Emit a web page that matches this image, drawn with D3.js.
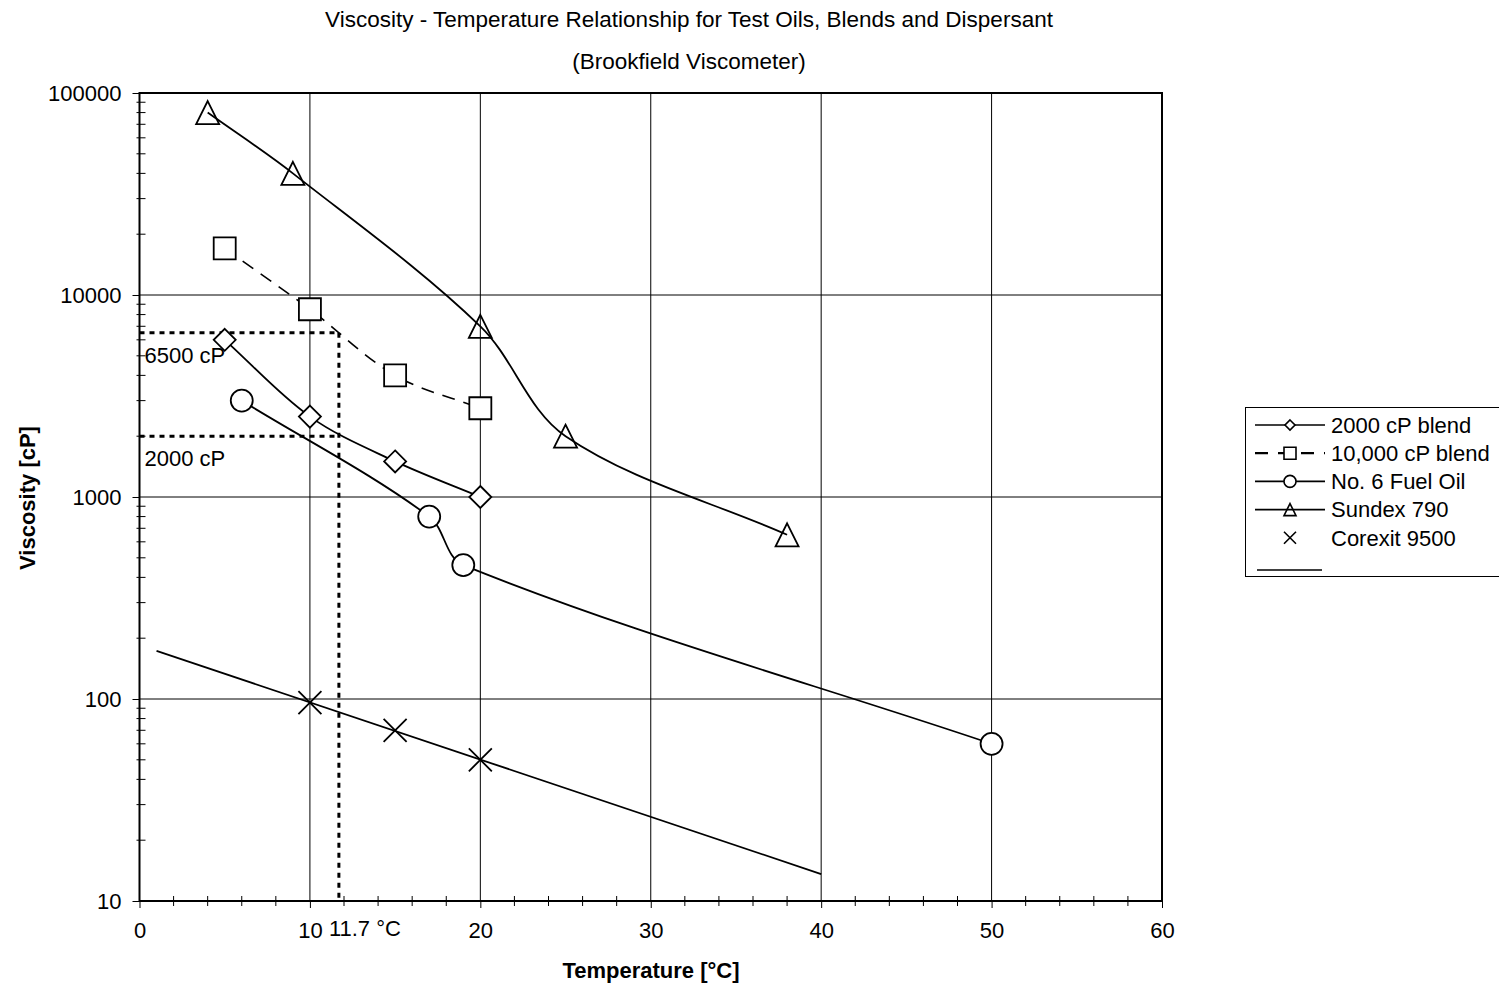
<!DOCTYPE html>
<html><head><meta charset="utf-8">
<script src="https://cdn.jsdelivr.net/npm/d3@7"></script>
<style>body{margin:0;background:#fff;} svg{display:block;font-family:"Liberation Sans",Arial,sans-serif;}</style>
</head><body><svg id="chart" width="1499" height="990"></svg>
<script>
// ---- data ----
const titleLines = ["Viscosity - Temperature Relationship for Test Oils, Blends and Dispersant", "(Brookfield Viscometer)"];
const xTicks = [0, 10, 20, 30, 40, 50, 60];
const xMinorTicks = [2,4,6,8,12,14,16,18,22,24,26,28,32,34,36,38,42,44,46,48,52,54,56,58];
const yTicks = [10, 100, 1000, 10000, 100000];
const yMinorMult = [2,3,4,5,6,7,8,9];
const gridX = [10, 20, 30, 40, 50];
const gridY = [100, 1000, 10000];

const blend2000T = [5, 10, 15, 20];
const blend2000V = [6000, 2500, 1500, 1000];
const blend10000T = [5, 10, 15, 20];
const blend10000V = [17000, 8500, 4000, 2750];
const fuelOilT = [6, 17, 19, 50];
const fuelOilV = [3000, 800, 460, 60];
const sundexT = [4, 9, 20, 25, 38];
const sundexV = [80000, 40000, 7000, 2000, 650];
const corexitT = [10, 15, 20];
const corexitV = [96, 70, 50];
const corexitTrendT = [1, 40];
const corexitTrendV = [173, 13.6];
const refViscosities = [6500, 2000];
const refLabels = ["6500 cP", "2000 cP"];
const refTemp = 11.7;
const refTempLabel = "11.7 °C";
const legendNames = ["2000 cP blend", "10,000 cP blend", "No. 6 Fuel Oil", "Sundex 790", "Corexit 9500"];

// ---- setup ----
const FS = 22;
const svg = d3.select("#chart");
const x = d3.scaleLinear().domain([0, 60]).range([139.5, 1162]);
const y = d3.scaleLog().domain([10, 100000]).range([901, 93]);
const zip = (a, b) => a.map((d, i) => [d, b[i]]);

// title
svg.selectAll("text.title").data(titleLines).join("text")
  .attr("x", 689).attr("y", (d, i) => 27 + i * 42)
  .attr("text-anchor", "middle").attr("font-size", 22.5).text(d => d);

// grid
const g = svg.append("g");
g.selectAll("line.gx").data(gridX).join("line")
  .attr("x1", d => x(d)).attr("x2", d => x(d)).attr("y1", y(100000)).attr("y2", y(10))
  .attr("stroke", "#000").attr("stroke-width", 1);
g.selectAll("line.gy").data(gridY).join("line")
  .attr("x1", x(0)).attr("x2", x(60)).attr("y1", d => y(d)).attr("y2", d => y(d))
  .attr("stroke", "#000").attr("stroke-width", 1);

// reference dotted lines
refViscosities.forEach((v, i) => {
  g.append("line").attr("x1", x(0)).attr("x2", x(refTemp)).attr("y1", y(v)).attr("y2", y(v))
    .attr("stroke", "#000").attr("stroke-width", 3).attr("stroke-dasharray", "5,5");
  g.append("text").attr("x", x(0) + 5).attr("y", y(v) + 30).attr("font-size", FS).text(refLabels[i]);
});
g.append("line").attr("x1", x(refTemp)).attr("x2", x(refTemp)).attr("y1", y(refViscosities[0])).attr("y2", y(10))
  .attr("stroke", "#000").attr("stroke-width", 3).attr("stroke-dasharray", "5,5");

// minor ticks
const yMinor = [];
[10, 100, 1000, 10000].forEach(b => yMinorMult.forEach(m => yMinor.push(b * m)));
g.selectAll("line.ym").data(yMinor).join("line")
  .attr("x1", x(0) - 3).attr("x2", x(0) + 6).attr("y1", d => y(d)).attr("y2", d => y(d))
  .attr("stroke", "#000").attr("stroke-width", 1);
g.selectAll("line.xm").data(xMinorTicks).join("line")
  .attr("x1", d => x(d)).attr("x2", d => x(d)).attr("y1", y(10) - 5).attr("y2", y(10) + 5)
  .attr("stroke", "#000").attr("stroke-width", 1);

// axes
const xAxis = svg.append("g").attr("transform", `translate(0,${y(10)})`)
  .call(d3.axisBottom(x).tickValues(xTicks).tickSize(7).tickPadding(14).tickFormat(d3.format("d")));
const yAxis = svg.append("g").attr("transform", `translate(${x(0)},0)`)
  .call(d3.axisLeft(y).tickValues(yTicks).tickSize(7).tickPadding(11).tickFormat(d3.format("d")));
[xAxis, yAxis].forEach(a => {
  a.select(".domain").remove();
  a.selectAll("text").attr("font-size", FS).attr("fill", "#000").attr("font-family", "Liberation Sans, Arial, sans-serif");
  a.selectAll("line").attr("stroke", "#000");
});

// plot border
svg.append("rect").attr("x", x(0)).attr("y", y(100000)).attr("width", x(60) - x(0)).attr("height", y(10) - y(100000))
  .attr("fill", "none").attr("stroke", "#000").attr("stroke-width", 2);

// ref temp label
svg.append("text").attr("x", x(refTemp) - 10).attr("y", 936).attr("font-size", FS).text(refTempLabel);

// axis titles
svg.append("text").attr("x", 651).attr("y", 978).attr("text-anchor", "middle")
  .attr("font-size", FS).attr("font-weight", "bold").text("Temperature [°C]");
svg.append("text").attr("transform", "translate(35,498) rotate(-90)").attr("text-anchor", "middle")
  .attr("font-size", FS).attr("font-weight", "bold").text("Viscosity [cP]");

// marker paths
function markerPath(type, s) {
  switch (type) {
    case "diamond": return `M0,${-s}L${s},0L0,${s}L${-s},0Z`;
    case "square": return `M${-s},${-s}H${s}V${s}H${-s}Z`;
    case "circle": return `M${s},0A${s},${s} 0 1,1 ${-s},0A${s},${s} 0 1,1 ${s},0Z`;
    case "triangle": return `M0,${-s}L${s},${s}L${-s},${s}Z`;
    case "x": return `M${-s},${-s}L${s},${s}M${s},${-s}L${-s},${s}`;
  }
}
// Excel-like smoothed line: Bezier with tangent along neighbours, arm = chord/3
function smoothPath(data) {
  const pts = data.map(d => [x(d[0]), y(d[1])]);
  const n = pts.length;
  const tan = pts.map((p, i) => {
    const a = pts[Math.max(0, i - 1)], b = pts[Math.min(n - 1, i + 1)];
    const dx = b[0] - a[0], dy = b[1] - a[1], l = Math.hypot(dx, dy);
    return [dx / l, dy / l];
  });
  const path = d3.path();
  path.moveTo(pts[0][0], pts[0][1]);
  for (let i = 0; i < n - 1; i++) {
    const p = pts[i], q = pts[i + 1];
    const L = Math.hypot(q[0] - p[0], q[1] - p[1]) / 3;
    path.bezierCurveTo(p[0] + tan[i][0] * L, p[1] + tan[i][1] * L,
      q[0] - tan[i + 1][0] * L, q[1] - tan[i + 1][1] * L, q[0], q[1]);
  }
  return path.toString();
}

const series = [
  { name: legendNames[0], data: zip(blend2000T, blend2000V), marker: "diamond", size: 11, fill: "#fff", dash: null, legSize: 5 },
  { name: legendNames[1], data: zip(blend10000T, blend10000V), marker: "square", size: 11, fill: "#fff", dash: "13,9", legSize: 6 },
  { name: legendNames[2], data: zip(fuelOilT, fuelOilV), marker: "circle", size: 11, fill: "#fff", dash: null, legSize: 6 },
  { name: legendNames[3], data: zip(sundexT, sundexV), marker: "triangle", size: 11.5, fill: "none", dash: null, legSize: 6 },
  { name: legendNames[4], data: zip(corexitT, corexitV), marker: "x", size: 11.5, fill: "none", dash: null, legSize: 6, noLine: true }
];

// corexit trendline
svg.append("path").datum(zip(corexitTrendT, corexitTrendV))
  .attr("d", d3.line().x(d => x(d[0])).y(d => y(d[1])))
  .attr("fill", "none").attr("stroke", "#000").attr("stroke-width", 1.8);

series.forEach(s => {
  if (!s.noLine) {
    svg.append("path").attr("d", smoothPath(s.data))
      .attr("fill", "none").attr("stroke", "#000")
      .attr("stroke-width", s.dash ? 1.6 : 1.8)
      .attr("stroke-dasharray", s.dash);
  }
  svg.selectAll(null).data(s.data).join("path")
    .attr("transform", d => `translate(${x(d[0])},${y(d[1])})`)
    .attr("d", markerPath(s.marker, s.size))
    .attr("fill", s.fill).attr("stroke", "#000").attr("stroke-width", 1.8);
});

// legend
const leg = svg.append("g");
leg.append("rect").attr("x", 1245.5).attr("y", 407.5).attr("width", 270).attr("height", 169)
  .attr("fill", "#fff").attr("stroke", "#000").attr("stroke-width", 1);
series.forEach((s, i) => {
  const cy = 425 + i * 28.2;
  if (!s.noLine) {
    leg.append("line").attr("x1", 1255).attr("x2", 1325).attr("y1", cy).attr("y2", cy)
      .attr("stroke", "#000").attr("stroke-width", s.dash ? 2.2 : 1.6)
      .attr("stroke-dasharray", s.dash ? "13,10" : null);
  } else {
    leg.append("line").attr("x1", 1257).attr("x2", 1322).attr("y1", 570).attr("y2", 570)
      .attr("stroke", "#000").attr("stroke-width", 1.6);
  }
  leg.append("path").attr("transform", `translate(1290,${cy})`)
    .attr("d", markerPath(s.marker, s.legSize))
    .attr("fill", s.fill === "none" ? "none" : "#fff").attr("stroke", "#000").attr("stroke-width", 1.6);
  leg.append("text").attr("x", 1331).attr("y", cy).attr("dy", "0.35em").attr("font-size", FS).text(s.name);
});
</script>
</body></html>
